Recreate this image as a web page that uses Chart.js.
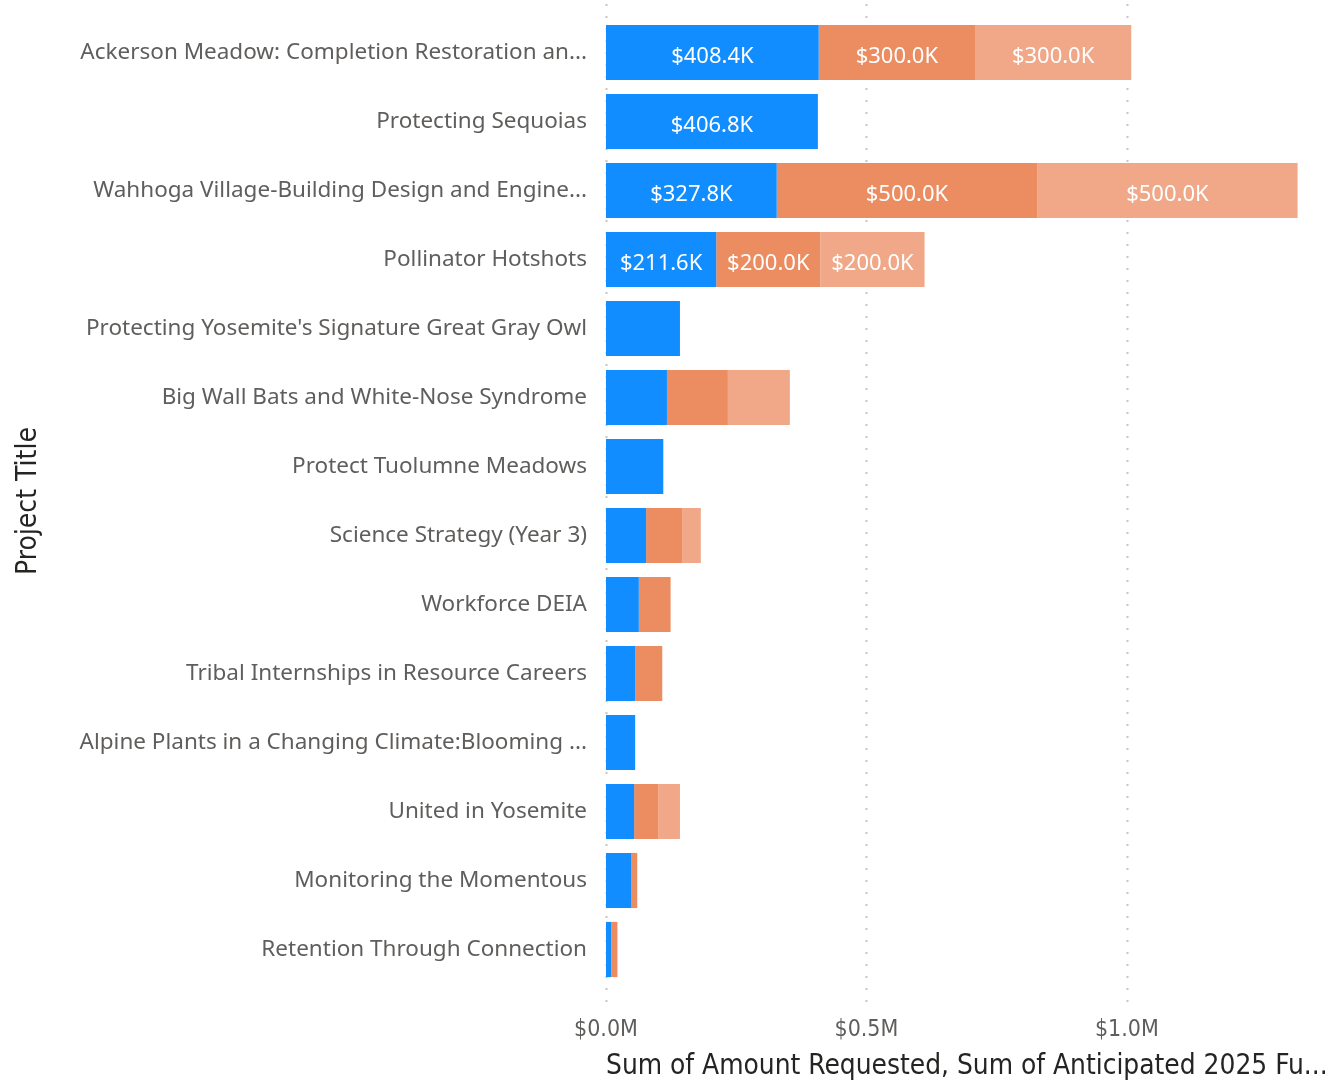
<!DOCTYPE html>
<html>
<head>
<meta charset="utf-8">
<script src="https://cdn.jsdelivr.net/npm/chart.js@4"></script>
<style>
  html, body { margin: 0; padding: 0; background: #fff; }
  #wrap { width: 1332px; height: 1082px; }
</style>
</head>
<body>
<div id="wrap"><canvas id="fundingChart"></canvas></div>
<script>
const projects = [
    'Ackerson Meadow: Completion Restoration an...',
    'Protecting Sequoias',
    'Wahhoga Village-Building Design and Engine...',
    'Pollinator Hotshots',
    "Protecting Yosemite's Signature Great Gray Owl",
    'Big Wall Bats and White-Nose Syndrome',
    'Protect Tuolumne Meadows',
    'Science Strategy (Year 3)',
    'Workforce DEIA',
    'Tribal Internships in Resource Careers',
    'Alpine Plants in a Changing Climate:Blooming ...',
    'United in Yosemite',
    'Monitoring the Momentous',
    'Retention Through Connection'
];

// values in $K
const amountRequested = [408.4, 406.8, 327.8, 211.6, 142, 117, 110, 77, 63, 56, 56, 54, 48, 10];
const anticipated2025 = [300, 0, 500, 200, 0, 117, 0, 69, 61, 52, 0, 46, 12, 12];
const anticipated2026 = [300, 0, 500, 200, 0, 119, 0, 36, 0, 0, 0, 42, 0, 0];

const xTicks = [0, 500, 1000];

const labelFont = "'Segoe UI', 'Noto Sans', sans-serif";
const axisFont = "'DejaVu Sans Condensed', 'Liberation Sans Narrow', 'Noto Sans', sans-serif";

// dotted vertical gridlines running a bit past the plot area, like Power BI
const dottedGrid = {
    id: 'dottedGrid',
    beforeDatasetsDraw(chart) {
        const ctx = chart.ctx;
        const x = chart.scales.x;
        ctx.save();
        ctx.strokeStyle = '#C8C6C4';
        ctx.lineWidth = 2;
        ctx.setLineDash([2, 10]);
        xTicks.forEach(v => {
            const px = Math.round(x.getPixelForValue(v)) + 0.5;
            ctx.beginPath();
            ctx.moveTo(px, 4);
            ctx.lineTo(px, 1004);
            ctx.stroke();
        });
        ctx.restore();
    }
};

// white value labels inside the wide segments
const barLabels = {
    id: 'barLabels',
    afterDatasetsDraw(chart) {
        const ctx = chart.ctx;
        ctx.save();
        ctx.fillStyle = '#ffffff';
        ctx.font = '22px ' + labelFont;
        ctx.textAlign = 'center';
        ctx.textBaseline = 'middle';
        chart.data.datasets.forEach((ds, i) => {
            chart.getDatasetMeta(i).data.forEach((bar, j) => {
                const v = ds.data[j];
                const w = Math.abs(bar.x - bar.base);
                if (!v || w < 90) return;
                ctx.fillText('$' + v.toFixed(1) + 'K', (bar.x + bar.base) / 2, bar.y + 4);
            });
        });
        ctx.restore();
    }
};

new Chart(document.getElementById('fundingChart'), {
    type: 'bar',
    data: {
        labels: projects,
        datasets: [{
            label: 'Sum of Amount Requested',
            data: amountRequested,
            backgroundColor: '#118DFF'
        }, {
            label: 'Sum of Anticipated 2025 Funding',
            data: anticipated2025,
            backgroundColor: '#EB8C61'
        }, {
            label: 'Sum of Anticipated 2026 Funding',
            data: anticipated2026,
            backgroundColor: '#F0A888'
        }]
    },
    options: {
        indexAxis: 'y',
        responsive: true,
        maintainAspectRatio: false,
        animation: false,
        datasets: {
            bar: {
                categoryPercentage: 0.8,
                barPercentage: 1.0,
                borderWidth: 0
            }
        },
        layout: {
            padding: { top: 18, right: 2, left: 0, bottom: 0 }
        },
        scales: {
            x: {
                stacked: true,
                min: 0,
                max: 1390,
                afterFit(scale) { scale.height = 98; },
                afterBuildTicks(scale) { scale.ticks = xTicks.map(v => ({ value: v })); },
                ticks: {
                    color: '#605E5C',
                    font: { family: axisFont, size: 23 },
                    padding: 24,
                    callback: v => '$' + (v / 1000).toFixed(1) + 'M'
                },
                grid: { display: false },
                border: { display: false },
                title: {
                    display: true,
                    text: 'Sum of Amount Requested, Sum of Anticipated 2025 Fu...',
                    align: 'start',
                    color: '#252423',
                    font: { family: axisFont, size: 27.8, lineHeight: 1 },
                    padding: { top: 0, bottom: 1 }
                }
            },
            y: {
                stacked: true,
                afterFit(scale) {
                    scale.width = 606;
                    scale.paddingTop = 0;
                    scale.paddingBottom = 0;
                },
                ticks: {
                    color: '#605E5C',
                    font: { family: labelFont, size: 22.5 },
                    padding: 19,
                    autoSkip: false
                },
                grid: { display: false, drawTicks: false },
                border: { display: false },
                title: {
                    display: true,
                    text: 'Project Title',
                    color: '#252423',
                    font: { family: axisFont, size: 28 },
                    padding: { top: 12, bottom: 0 }
                }
            }
        },
        plugins: {
            legend: { display: false },
            tooltip: { enabled: false }
        }
    },
    plugins: [dottedGrid, barLabels]
});
</script>
</body>
</html>
